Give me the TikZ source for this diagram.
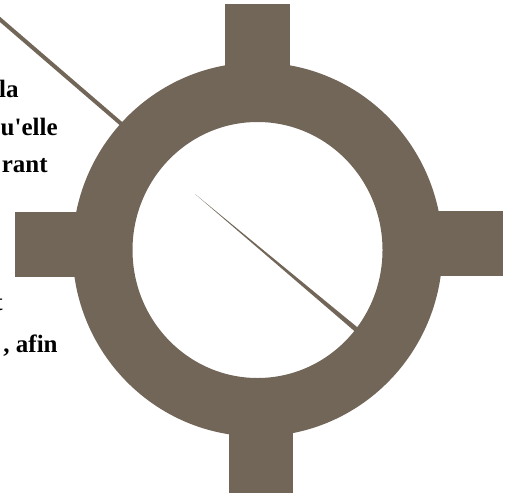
\documentclass[tikz,border=0pt]{standalone}
\usepackage{fontspec}
\setmainfont{Liberation Serif}
\usepackage{tikz}
\usetikzlibrary{positioning,calc}
\usepackage{xcolor}
\definecolor{Taupe}{HTML}{716658}
\newcommand{\CropWord}[4]{%
  \node[anchor=base east,inner sep=0pt,font=\fontsize{12.5}{14}\selectfont\bfseries] (#1) at (#2,#3) {#4};%
}
\begin{document}
\begin{tikzpicture}[x=0.5pt,y=-0.5pt]
\useasboundingbox (0,0) rectangle (517,497);
\CropWord{wla}{19}{98}{la}
\CropWord{welle}{58}{135}{u\textquotesingle elle}
\CropWord{wrant}{48}{172}{rant}
\CropWord{wt}{3}{310}{t}
\CropWord{wafin}{58}{352}{, afin}
% pointer lines
\coordinate (ptrA) at (-4,16);
\coordinate (ptrB) at (140,140);
\draw[Taupe,line width=2pt] (ptrA) -- (ptrB);
\fill[Taupe] (195,194) -- (360.4,336.2) -- (363.6,332.4) -- cycle;
% crosshair arms
\foreach \xa/\ya/\xb/\yb in {225/4/290/120,229/380/293/493,15/212/120/277,395/211/503/276} {
  \fill[Taupe] (\xa,\ya) rectangle (\xb,\yb);
}
% ring
\fill[Taupe,even odd rule] (257.5,249.5) ellipse[x radius=185,y radius=187]
  (257.5,250) ellipse[x radius=125,y radius=128];
\end{tikzpicture}
\end{document}
